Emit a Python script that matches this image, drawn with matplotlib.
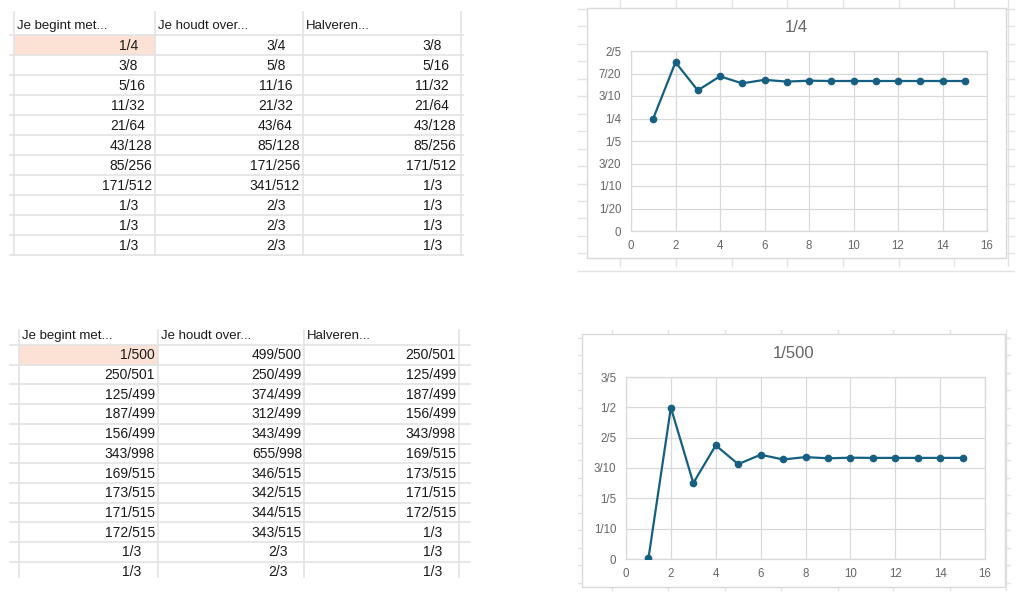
from fractions import Fraction
import matplotlib
matplotlib.use("Agg")
import matplotlib.pyplot as plt
from matplotlib.patches import Rectangle

plt.rcParams['font.family'] = ['Liberation Sans Narrow', 'Liberation Sans', 'DejaVu Sans']

# spreadsheet data
headers = ["Je begint met...", "Je houdt over...", "Halveren..."]

top_begint = ["1/4", "3/8", "5/16", "11/32", "21/64", "43/128", "85/256", "171/512", "1/3", "1/3", "1/3"]
top_houdt = ["3/4", "5/8", "11/16", "21/32", "43/64", "85/128", "171/256", "341/512", "2/3", "2/3", "2/3"]
top_halveren = ["3/8", "5/16", "11/32", "21/64", "43/128", "85/256", "171/512", "1/3", "1/3", "1/3", "1/3"]

bottom_begint = ["1/500", "250/501", "125/499", "187/499", "156/499", "343/998", "169/515", "173/515",
                 "171/515", "172/515", "1/3", "1/3"]
bottom_houdt = ["499/500", "250/499", "374/499", "312/499", "343/499", "655/998", "346/515", "342/515",
                "344/515", "343/515", "2/3", "2/3"]
bottom_halveren = ["250/501", "125/499", "187/499", "156/499", "343/998", "169/515", "173/515", "171/515",
                   "172/515", "1/3", "1/3", "1/3"]

# chart data
steps = [1, 2, 3, 4, 5, 6, 7, 8, 9, 10, 11, 12, 13, 14, 15]
top_series = ["1/4", "3/8", "5/16", "11/32", "21/64", "43/128", "85/256", "171/512",
              "1/3", "1/3", "1/3", "1/3", "1/3", "1/3", "1/3"]
bottom_series = ["1/500", "250/501", "125/499", "187/499", "156/499", "343/998", "169/515", "173/515",
                 "171/515", "172/515", "1/3", "1/3", "1/3", "1/3", "1/3"]

x_ticks = [0, 2, 4, 6, 8, 10, 12, 14, 16]
top_yticks = [0, 0.05, 0.10, 0.15, 0.20, 0.25, 0.30, 0.35, 0.40]
top_yticklabels = ["0", "1/20", "1/10", "3/20", "1/5", "1/4", "3/10", "7/20", "2/5"]
bottom_yticks = [0, 0.1, 0.2, 0.3, 0.4, 0.5, 0.6]
bottom_yticklabels = ["0", "1/10", "1/5", "3/10", "2/5", "1/2", "3/5"]

W, H = 1024, 610
GRID = '#e3e3e3'
LINE = '#156082'
TXT = '#666666'
CELL = '#1a1a1a'
CHART_FONT = 'Liberation Sans'

fig = plt.figure(figsize=(W / 100, H / 100), dpi=100)
bg = fig.add_axes([0, 0, 1, 1])
bg.set_xlim(0, W)
bg.set_ylim(H, 0)
bg.axis('off')


def box(l, t, r, b):
    return [l / W, 1 - b / H, (r - l) / W, (b - t) / H]


def draw_table(col_x, text_end, row_top, row_h, y_end, x_left, x_right, vtop, cols_data):
    n = len(cols_data[0])
    bg.add_patch(Rectangle((col_x[0], row_top), col_x[1] - col_x[0], row_h,
                           facecolor='#fbe2d5', edgecolor='none', zorder=0))
    for k in range(n + 1):
        y = row_top + k * row_h
        if y <= y_end:
            bg.plot([x_left, x_right], [y, y], color=GRID, lw=1.2, zorder=1)
    for x in col_x:
        bg.plot([x, x], [vtop, y_end], color=GRID, lw=1.2, zorder=1)
    for j, h in enumerate(headers):
        bg.text(col_x[j] + 3, row_top - row_h / 2 + 1, h, ha='left', va='center',
                fontsize=9.5, color=CELL, zorder=2)
    # fraction format pads the denominator to three digits, so slashes line up
    for j, data in enumerate(cols_data):
        for i, s in enumerate(data):
            den = s.split('/')[1]
            y = row_top + (i + 0.5) * row_h + 0.5
            x = text_end[j] - (3 - len(den)) * 7
            bg.text(x, y, s, ha='right', va='center', fontsize=10, color=CELL, zorder=2)


draw_table([14, 155, 303, 461], [152, 300, 456], 35, 20, 255, 10, 463, 12,
           [top_begint, top_houdt, top_halveren])
draw_table([19, 158, 304, 459], [155, 302, 456], 345, 19.7, 577, 10, 470, 330,
           [bottom_begint, bottom_houdt, bottom_halveren])

# sheet grid behind the charts
for x in [620, 676, 732, 787, 843, 899, 954, 1008]:
    bg.plot([x, x], [0, 266], color=GRID, lw=1, zorder=1)
for k in range(16):
    y = 9 + 17.45 * k
    bg.plot([578, 1014], [y, y], color=GRID, lw=1, zorder=1)
for x in [612, 668, 725, 781, 838, 893, 950, 1006]:
    bg.plot([x, x], [330, 590], color=GRID, lw=1, zorder=1)
for k in range(15):
    y = 337.5 + 17.5 * k
    bg.plot([578, 1010], [y, y], color=GRID, lw=1, zorder=1)


def draw_chart(frame, plot, title, series, yticks, yticklabels):
    l, t, r, b = frame
    bg.add_patch(Rectangle((l, t), r - l, b - t, facecolor='white', edgecolor='#d9d9d9',
                           lw=1, zorder=3))
    bg.text((l + r) / 2, t + 20, title, ha='center', va='center', fontsize=12,
            color=TXT, family=CHART_FONT, zorder=4)
    ax = fig.add_axes(box(*plot))
    ax.set_facecolor('none')
    vals = [float(Fraction(s)) for s in series]
    ax.plot(steps, vals, color=LINE, lw=1.6, marker='o', markersize=4.5, zorder=3)
    ax.set_xlim(0, 16)
    ax.set_ylim(yticks[0], yticks[-1])
    ax.set_xticks(x_ticks)
    ax.set_yticks(yticks)
    ax.set_yticklabels(yticklabels)
    ax.grid(True, color='#d9d9d9', lw=0.9)
    ax.set_axisbelow(True)
    for sp in ax.spines.values():
        sp.set_color('#d9d9d9')
        sp.set_linewidth(0.9)
    ax.tick_params(axis='both', length=0, labelsize=8.3, colors=TXT,
                   labelfontfamily=CHART_FONT)
    ax.tick_params(axis='y', pad=7)
    ax.tick_params(axis='x', pad=6.5)
    return ax


draw_chart((587, 8, 1006, 258), (631, 51, 987, 231), "1/4", top_series, top_yticks, top_yticklabels)
draw_chart((582, 334, 1005, 587), (626, 377, 985, 559), "1/500", bottom_series,
           bottom_yticks, bottom_yticklabels)

fig.savefig('out.png', dpi=100)
